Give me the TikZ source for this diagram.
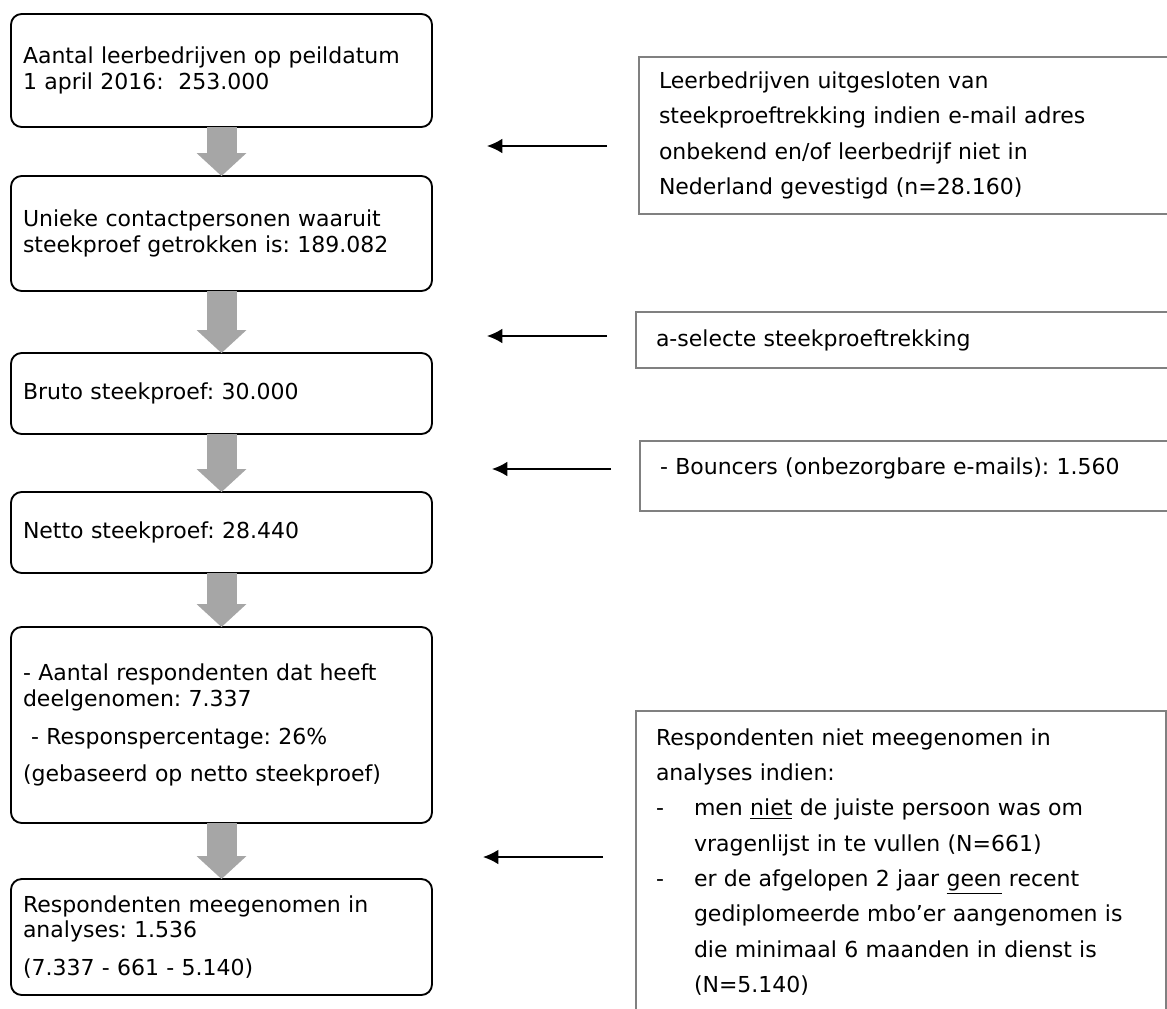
\documentclass[tikz,border=0pt]{standalone}
\usepackage{fontspec}
\setmainfont{DejaVu Sans}
\usetikzlibrary{positioning,arrows.meta}
\frenchspacing

\definecolor{arrowgray}{HTML}{A6A6A6}
\definecolor{boxgray}{HTML}{808080}

\begin{document}
\begin{tikzpicture}[x=0.75pt,y=-0.75pt,>={Latex[length=11.5pt,width=11pt]},
    main node/.style={draw,rounded corners=8pt,line width=1.4pt,outer sep=0pt,inner xsep=9pt,inner ysep=0pt,anchor=north,text width=297.75pt,align=left,font=\fontsize{16.5}{19}\selectfont},
    side node/.style={draw=boxgray,line width=1.1pt,outer sep=0pt,inner xsep=15pt,inner ysep=0pt,anchor=north west,align=left,font=\fontsize{16.5}{26.5}\selectfont},
    fat arrow/.style={color=arrowgray,line width=22.5pt,-{Triangle[width=37.5pt 0 0,length=17.25pt 0 0,line width=0pt 0 0]}},
    thin arrow/.style={->,line width=1.1pt}]
    \useasboundingbox (0,0) rectangle (1167,1008);
    \clip (0,0) rectangle (1167,1008);

    % left column
    \node[main node,minimum height=84.75pt] (1) at (221.5,14) {Aantal leerbedrijven op peildatum\\1 april 2016:\ \ 253.000};
    \node[main node,minimum height=86.25pt] (2) [below = 36.75pt of 1] {Unieke contactpersonen waaruit\\steekproef getrokken is: 189.082};
    \node[main node,minimum height=60.75pt] (3) [below = 46.5pt of 2] {Bruto steekproef: 30.000};
    \node[main node,minimum height=60.75pt] (4) [below = 43.5pt of 3] {Netto steekproef: 28.440};
    \node[main node,minimum height=147pt] (5) [below = 40.5pt of 4] {- Aantal respondenten dat heeft\\deelgenomen: 7.337\\[9.5pt]\hspace*{6pt}- Responspercentage: 26\%\\[9pt](gebaseerd op netto steekproef)};
    \node[main node,minimum height=87pt] (6) [below = 42pt of 5] {Respondenten meegenomen in\\analyses: 1.536\\[9.5pt](7.337 - 661 - 5.140)};

    % right column
    \node[side node,text width=378.75pt,minimum height=117.75pt] (7) at (639,57) {Leerbedrijven uitgesloten van\\steekproeftrekking indien e-mail adres\\onbekend en/of leerbedrijf niet in\\Nederland gevestigd (n=28.160)};
    \node[side node,text width=378.75pt,minimum height=42pt] (8) at (636,312) {a-selecte steekproeftrekking};
    \node[side node,text width=378.75pt,minimum height=52.5pt,text depth=15pt] (9) at (640,441) {- Bouncers (onbezorgbare e-mails): 1.560};
    \node[side node,text width=367.5pt,minimum height=226.5pt] (10) at (636,711) {Respondenten niet meegenomen in\\analyses indien:\\
        \makebox[28.5pt][l]{-}men \underline{niet} de juiste persoon was om\\
        \hspace*{28.5pt}vragenlijst in te vullen (N=661)\\
        \makebox[28.5pt][l]{-}er de afgelopen 2 jaar \underline{geen} recent\\
        \hspace*{28.5pt}gediplomeerde mbo’er aangenomen is\\
        \hspace*{28.5pt}die minimaal 6 maanden in dienst is\\
        \hspace*{28.5pt}(N=5.140)};

    \coordinate (11) at (607,146);
    \coordinate (12) at (487,146);
    \coordinate (13) at (607,336);
    \coordinate (14) at (487,336);
    \coordinate (15) at (611,469);
    \coordinate (16) at (492,469);
    \coordinate (17) at (603,857);
    \coordinate (18) at (483,857);

    \path[fat arrow]
        (1) edge (2)
        (2) edge (3)
        (3) edge (4)
        (4) edge (5)
        (5) edge (6)
        ;
    \path[thin arrow]
        (11) edge (12)
        (13) edge (14)
        (15) edge (16)
        (17) edge (18)
        ;
\end{tikzpicture}
\end{document}
